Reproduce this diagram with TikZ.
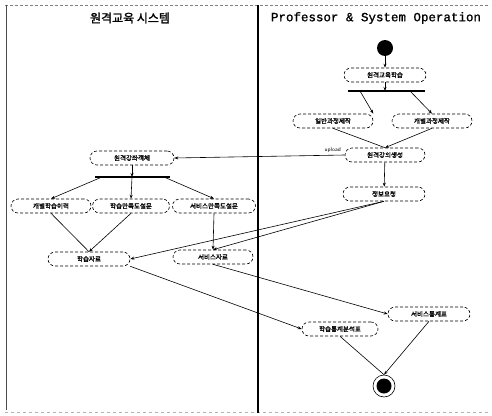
\documentclass[tikz,border=0pt]{standalone}
\usepackage{fontspec}
\usetikzlibrary{arrows.meta}
\newfontfamily\kr{Noto Sans CJK KR}
\newfontfamily\krb[FakeBold=1.5]{Noto Sans CJK KR}
\newfontfamily\hdr[FakeBold=1.2]{Liberation Mono}
\begin{document}
\begin{tikzpicture}[x=1pt,y=-1pt,
  act/.style={draw, densely dashed, line width=0.6pt, rounded corners=7pt, minimum height=14pt, inner sep=0pt, font=\krb\fontsize{6.5}{7}\selectfont},
  conn/.style={line width=0.6pt, -{Stealth[length=4pt,width=3pt]}},
  plain/.style={line width=0.6pt},
  bar/.style={line width=1.6pt}]
\useasboundingbox (0,0) rectangle (492,415);
% frame
\draw[gray, densely dashed, line width=0.8pt] (5,5) -- (490,5);
\draw[black!70, line width=0.8pt] (6,5) -- (6,410);
\draw[gray!60, dashed, line width=0.8pt] (5,412) -- (490,412);
\draw[line width=1.2pt] (258,5) -- (258,413);
% headers
\node[font=\krb\fontsize{12}{14}\selectfont] (h1) at (130,18) {원격교육 시스템};
\node[font=\hdr\fontsize{12.5}{14}\selectfont] (h2) at (376,18) {Professor \& System Operation};
% start
\node[circle, fill=black, minimum size=16pt, inner sep=0pt] (start) at (385,48) {};
% right lane
\node[act, minimum width=82pt] (n1) at (385,75) {원격교육학습};
\coordinate (b1l) at (348,91); \coordinate (b1r) at (425,91);
\coordinate (b1c) at (385,91);
\draw[bar] (b1l) -- (b1r);
\coordinate (b1a) at (360,91); \coordinate (b1b) at (410,91);
\node[act, minimum width=80pt] (n2) at (333,121) {일반과정제작};
\node[act, minimum width=80pt] (n3) at (432,121) {개별과정제작};
\node[act, minimum width=80pt] (n4) at (385,155) {원격강의생성};
\node[act, minimum width=82pt] (n5) at (384,194) {정보요청};
% left lane
\node[act, minimum width=84pt] (n6) at (132,158) {원격강좌객체};
\coordinate (b2l) at (95,177); \coordinate (b2r) at (170,177);
\coordinate (b2c) at (132,177);
\draw[bar] (b2l) -- (b2r);
\coordinate (b2a) at (102,177); \coordinate (b2b) at (164,177);
\node[act, minimum width=80pt] (n7) at (51,206) {개별학습이력};
\node[act, minimum width=77pt] (n8) at (131,206) {학습만족도설문};
\node[act, minimum width=83pt] (n9) at (214,206) {서비스만족도설문};
\node[act, minimum width=82pt] (n10) at (89,259) {학습자료};
\node[act, minimum width=80pt] (n11) at (213,257) {서비스자료};
\node[act, minimum width=76pt] (n12) at (340,329) {학습통계분석표};
\node[act, minimum width=82pt] (n13) at (429,314) {서비스통계표};
% end
\node[circle, draw, line width=0.6pt, minimum size=22pt, inner sep=0pt] (endo) at (384,386) {};
\node[circle, fill=black, minimum size=15pt, inner sep=0pt] (endi) at (384,386) {};
% connectors right
\draw[conn] (start) -- (n1);
\draw[conn] (n1) -- (b1c);
\draw[conn] (b1a) -- (n2.north east);
\draw[conn] (b1b) -- (n3.north);
\draw[plain] (n2.south) -- (n4.north);
\draw[conn] (n3.south) -- (n4.north);
\draw[conn] (n4) -- (n5);
\draw[conn] (n4.west) -- node[pos=0.07, above=-1pt, font=\sffamily\fontsize{5.5}{6}\selectfont] {upload} (n6.east);
% connectors left
\draw[conn] (n6) -- (b2c);
\draw[conn] (b2a) -- (n7.north);
\draw[conn] (b2c) -- (n8.north);
\draw[conn] (b2b) -- (n9.north);
\draw[plain] (n7.south) -- (n10.north);
\draw[conn] (n8.south) -- (n10.north);
\draw[conn] (n9.south) -- (n11.north);
\draw[conn] (n5.south) -- (n10.east);
\draw[conn] (n5.south) -- (n11.north);
\draw[conn] (n10.south east) -- (n12.west);
\draw[conn] (n11.south) -- (n13.west);
\draw[plain] (n12.south) -- (endo.north);
\draw[conn] (n13.south) -- (endo.north);
\end{tikzpicture}
\end{document}
